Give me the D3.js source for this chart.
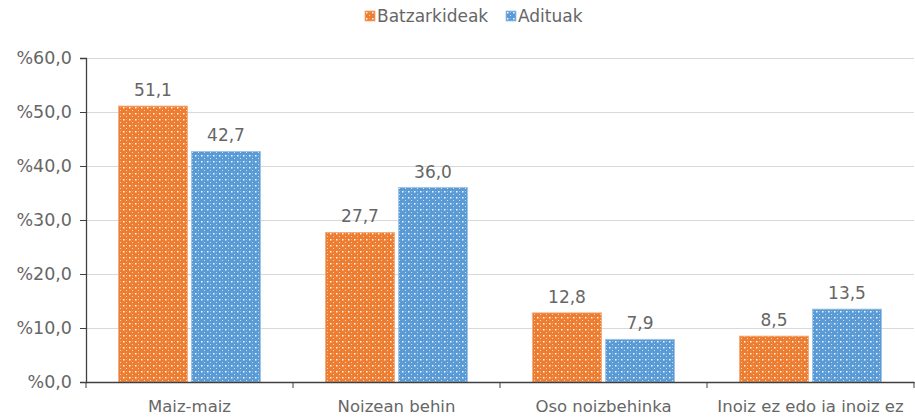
<!DOCTYPE html>
<html>
<head>
<meta charset="utf-8">
<script src="https://cdn.jsdelivr.net/npm/d3@7"></script>
<style>
  body { margin: 0; background: #fff; }
  text { font-family: "DejaVu Sans", Verdana, sans-serif; }
</style>
</head>
<body>
<svg id="chart"></svg>
<script>
var categories = ["Maiz-maiz", "Noizean behin", "Oso noizbehinka", "Inoiz ez edo ia inoiz ez"];
var seriesNames = ["Batzarkideak", "Adituak"];
var batzarkideak = [51.1, 27.7, 12.8, 8.5];
var adituak = [42.7, 36.0, 7.9, 13.5];
var yTicks = [0, 10, 20, 30, 40, 50, 60];

var colors = ["#ED7D31", "#5B9BD5"];
var edge = ["#F4A97A", "#9DC3E6"];
var txt = "#666666";

var W = 915, H = 419;
var margin = {top: 58, right: 1, bottom: 37, left: 86};
var width = W - margin.left - margin.right;
var height = H - margin.top - margin.bottom;

var svg = d3.select("#chart").attr("width", W).attr("height", H);

// dotted fill patterns like Excel
var defs = svg.append("defs");
colors.forEach(function(c, i){
  var p = defs.append("pattern")
    .attr("id", "pat" + i)
    .attr("patternUnits", "userSpaceOnUse")
    .attr("width", 6).attr("height", 6);
  p.append("rect").attr("width", 6).attr("height", 6).attr("fill", c);
  p.append("rect").attr("x", 1).attr("y", 1).attr("width", 1.5).attr("height", 1.5).attr("fill", "#fff").attr("opacity", 0.95);
  p.append("rect").attr("x", 4).attr("y", 4).attr("width", 1).attr("height", 1).attr("fill", "#fff").attr("opacity", 0.7);
  p.append("rect").attr("x", 4).attr("y", 1).attr("width", 1).attr("height", 1).attr("fill", "#fff").attr("opacity", 0.35);
});

var g = svg.append("g").attr("transform", "translate(" + margin.left + "," + margin.top + ")");

var x0 = d3.scaleBand().domain(categories).range([0, width]);
var x1 = d3.scaleBand().domain(seriesNames).range([x0.bandwidth()/2 - 71, x0.bandwidth()/2 + 71]).paddingInner(0.055);
var y = d3.scaleLinear().domain([0, 60]).range([height, 0]);

// gridlines
g.selectAll(".grid").data(yTicks.slice(1)).enter().append("line")
  .attr("x1", 0).attr("x2", width)
  .attr("y1", function(d){ return y(d) + 0.5; })
  .attr("y2", function(d){ return y(d) + 0.5; })
  .attr("stroke", "#d9d9d9").attr("stroke-width", 1);

var data = categories.map(function(c, i){
  return {cat: c, vals: [{s: 0, v: batzarkideak[i]}, {s: 1, v: adituak[i]}]};
});

var groups = g.selectAll(".cat").data(data).enter().append("g")
  .attr("transform", function(d){ return "translate(" + x0(d.cat) + ",0)"; });

groups.selectAll("rect").data(function(d){ return d.vals; }).enter().append("rect")
  .attr("x", function(d){ return x1(seriesNames[d.s]); })
  .attr("width", x1.bandwidth())
  .attr("y", function(d){ return y(d.v); })
  .attr("height", function(d){ return height - y(d.v); })
  .attr("fill", function(d){ return "url(#pat" + d.s + ")"; })
  .attr("stroke", function(d){ return edge[d.s]; })
  .attr("stroke-width", 0.8);

groups.selectAll(".lbl").data(function(d){ return d.vals; }).enter().append("text")
  .attr("x", function(d){ return x1(seriesNames[d.s]) + x1.bandwidth()/2; })
  .attr("y", function(d){ return y(d.v) - 10; })
  .attr("text-anchor", "middle")
  .attr("font-size", "17px")
  .attr("fill", txt)
  .text(function(d){ return d.v.toFixed(1).replace(".", ","); });

// y axis
var yAxis = g.append("g")
  .call(d3.axisLeft(y).tickValues(yTicks).tickSize(6).tickPadding(8)
    .tickFormat(function(d){ return "%" + d.toFixed(1).replace(".", ","); }));
yAxis.select(".domain").attr("stroke", "#404040").attr("stroke-width", 1.3);
yAxis.selectAll(".tick line").attr("stroke", "#404040");
yAxis.selectAll(".tick text").attr("fill", txt).attr("font-size", "17.5px")
  .attr("font-family", "DejaVu Sans, Verdana, sans-serif");

// x axis
var xAxis = g.append("g").attr("transform", "translate(0," + height + ")")
  .call(d3.axisBottom(x0).tickSize(0).tickPadding(18));
xAxis.select(".domain").attr("stroke", "#404040").attr("stroke-width", 1.3);
xAxis.selectAll(".tick text").attr("fill", txt).attr("font-size", "16.5px")
  .attr("font-family", "DejaVu Sans, Verdana, sans-serif");
// category boundary ticks
xAxis.selectAll(".bound").data(d3.range(categories.length + 1)).enter().append("line")
  .attr("x1", function(i){ return i * x0.bandwidth(); })
  .attr("x2", function(i){ return i * x0.bandwidth(); })
  .attr("y1", 0).attr("y2", 6)
  .attr("stroke", "#404040");

// legend
var legend = svg.append("g").attr("transform", "translate(365,11)");
var lx = [0, 141];
seriesNames.forEach(function(s, i){
  var it = legend.append("g").attr("transform", "translate(" + lx[i] + ",0)");
  it.append("rect").attr("width", 10).attr("height", 10).attr("y", 0)
    .attr("fill", "url(#pat" + i + ")").attr("stroke", edge[i]).attr("stroke-width", 0.8);
  it.append("text").attr("x", 12).attr("y", 11).attr("font-size", "17px")
    .attr("fill", txt).text(s);
});
</script>
</body>
</html>
